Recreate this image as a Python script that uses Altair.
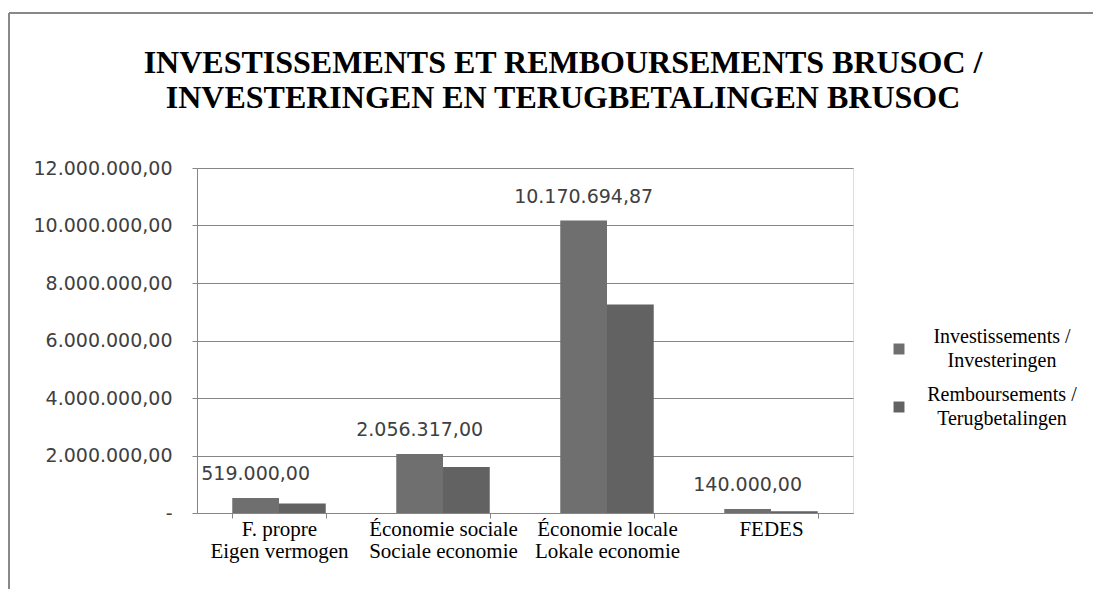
import altair as alt
import pandas as pd

title_lines = ["INVESTISSEMENTS ET REMBOURSEMENTS BRUSOC /",
               "INVESTERINGEN EN TERUGBETALINGEN BRUSOC"]
categories = ["F. propre|Eigen vermogen", "Économie sociale|Sociale economie",
              "Économie locale|Lokale economie", "FEDES"]
series = ["Investissements / Investeringen", "Remboursements / Terugbetalingen"]
investissements = [519000.00, 2056317.00, 10170694.87, 140000.00]
remboursements = [330000, 1600000, 7250000, 60000]
y_ticks = [0, 2000000, 4000000, 6000000, 8000000, 10000000, 12000000]

rows = []
for c, v in zip(categories, investissements):
    rows.append({"cat": c, "serie": series[0], "val": v})
for c, v in zip(categories, remboursements):
    rows.append({"cat": c, "serie": series[1], "val": v})
df = pd.DataFrame(rows)

fmt_expr = ("replace(replace(replace(format({v}, ',.2f'), regexp(',', 'g'), '#'), '.', ','), "
            "regexp('#', 'g'), '.')")

x_enc = alt.X("cat:N", sort=categories, title=None,
              scale=alt.Scale(paddingInner=0.43, paddingOuter=0.215),
              axis=alt.Axis(labelExpr="split(datum.label, '|')", labelAngle=0,
                            labelFont="Liberation Serif", labelFontSize=21,
                            labelColor="#000000", labelLineHeight=22,
                            labelPadding=0, tickSize=5, tickBand="extent",
                            tickColor="#868686", domainColor="#868686",
                            labelLimit=300))
xo = alt.XOffset("serie:N", sort=series)

bars = alt.Chart(df).mark_bar().encode(
    x=x_enc,
    xOffset=xo,
    y=alt.Y("val:Q", title=None,
            scale=alt.Scale(domain=[0, 12000000], nice=False),
            axis=alt.Axis(values=y_ticks,
                          labelExpr="datum.value == 0 ? '-\u00a0\u00a0' : " + fmt_expr.format(v="datum.value"),
                          labelFont="DejaVu Sans", labelFontSize=19,
                          labelColor="#404040", labelPadding=20, tickSize=5,
                          tickColor="#868686", domainColor="#868686",
                          grid=True, gridColor="#868686", gridWidth=1)),
    color=alt.Color("serie:N", sort=series, title=None,
                    scale=alt.Scale(domain=series, range=["#6f6f6f", "#626262"]),
                    legend=alt.Legend(orient="none", legendX=692, legendY=171,
                                      symbolType="square", symbolSize=120,
                                      symbolStrokeWidth=0,
                                      labelFont="Liberation Serif", labelFontSize=20,
                                      labelColor="#000000", labelAlign="center",
                                      labelBaseline="line-bottom",
                                      labelOffset=93, labelLimit=400,
                                      labelExpr="split(replace(datum.label, ' / ', ' /|'), '|')",
                                      rowPadding=14, padding=0)),
)

labels = alt.Chart(df).transform_filter(
    alt.datum.serie == series[0]
).transform_calculate(
    lbl=fmt_expr.format(v="datum.val")
).mark_text(font="DejaVu Sans", fontSize=19, color="#404040", dy=-24).encode(
    x=alt.X("cat:N", sort=categories),
    xOffset=xo,
    y="val:Q",
    text="lbl:N",
)

frame_data = alt.Data(values=[{"k": 1}])
frame_left = alt.Chart(frame_data).mark_rule(color="#888888", strokeWidth=2).encode(
    x=alt.value(-188), y=alt.value(-155), y2=alt.value(440))
frame_top = alt.Chart(frame_data).mark_rule(color="#888888", strokeWidth=2).encode(
    x=alt.value(-188), x2=alt.value(940), y=alt.value(-155))

chart = alt.layer(bars, labels, frame_left, frame_top).properties(
    width=656, height=345,
    padding={"left": 189, "top": 160, "right": 240, "bottom": 76},
    autosize=alt.AutoSizeParams(type="none"),
    title=alt.TitleParams(text=title_lines, font="Liberation Serif", fontSize=32,
                          fontWeight="bold", color="#000000", anchor="middle",
                          frame="group", dx=38, dy=135, offset=0, baseline="bottom",
                          lineHeight=35),
).configure_view(stroke=None).configure(
    background="#ffffff", style={"guide-label": {"lineHeight": 24}}
)

chart.save("out.html", embed_options={"renderer": "svg", "actions": False})
